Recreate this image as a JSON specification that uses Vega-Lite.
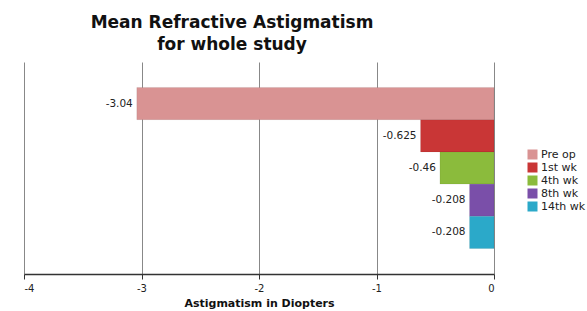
{
  "$schema": "https://vega.github.io/schema/vega-lite/v6.json",
  "width": 470,
  "height": 212,
  "autosize": {"type": "none"},
  "padding": {"left": 24, "top": 62, "right": 93, "bottom": 37},
  "background": "white",
  "title": {
    "text": ["Mean Refractive Astigmatism", "for whole study"],
    "font": "DejaVu Sans",
    "fontSize": 17,
    "fontWeight": "bold",
    "color": "#111",
    "anchor": "middle",
    "frame": "group",
    "dx": -27,
    "offset": 8,
    "lineHeight": 22
  },
  "data": {
    "values": [
      {"period": "Pre op", "value": -3.04, "label": "-3.04"},
      {"period": "1st wk", "value": -0.625, "label": "-0.625"},
      {"period": "4th wk", "value": -0.46, "label": "-0.46"},
      {"period": "8th wk", "value": -0.208, "label": "-0.208"},
      {"period": "14th wk", "value": -0.208, "label": "-0.208"}
    ]
  },
  "encoding": {
    "y": {
      "field": "period",
      "type": "nominal",
      "sort": ["Pre op", "1st wk", "4th wk", "8th wk", "14th wk"],
      "scale": {"paddingInner": 0, "paddingOuter": 0.79},
      "axis": null
    },
    "x": {
      "field": "value",
      "type": "quantitative",
      "scale": {"domain": [-4, 0], "nice": false},
      "axis": {
        "title": "Astigmatism in Diopters",
        "titleFont": "DejaVu Sans",
        "titleFontSize": 11,
        "titleFontWeight": "bold",
        "titleColor": "#111",
        "titlePadding": 4,
        "values": [-4, -3, -2, -1, 0],
        "labelExpr": "'' + datum.value",
        "labelFont": "DejaVu Sans",
        "labelFontSize": 10,
        "labelColor": "#222",
        "labelPadding": 4,
        "domainColor": "#333",
        "domainWidth": 1.5,
        "tickColor": "#333",
        "tickSize": 5,
        "grid": true,
        "gridColor": "#888",
        "gridWidth": 1
      }
    }
  },
  "layer": [
    {
      "mark": {"type": "bar", "stroke": "#00000022", "strokeWidth": 0.5},
      "encoding": {
        "color": {
          "field": "period",
          "type": "nominal",
          "sort": ["Pre op", "1st wk", "4th wk", "8th wk", "14th wk"],
          "scale": {
            "domain": ["Pre op", "1st wk", "4th wk", "8th wk", "14th wk"],
            "range": ["#d99393", "#c93636", "#8bbb3c", "#7a4fa9", "#2ba9c9"]
          },
          "legend": {
            "title": null,
            "orient": "none",
            "legendX": 503,
            "legendY": 87,
            "symbolType": "square",
            "symbolSize": 100,
            "symbolStrokeWidth": 0,
            "labelFont": "DejaVu Sans",
            "labelFontSize": 11,
            "labelColor": "#222",
            "rowPadding": 1,
            "labelOffset": 3
          }
        }
      }
    },
    {
      "mark": {"type": "text", "align": "right", "dx": -4, "font": "DejaVu Sans", "fontSize": 10.5, "color": "#222"},
      "encoding": {
        "text": {"field": "label", "type": "nominal"}
      }
    }
  ],
  "config": {
    "view": {"stroke": null}
  }
}
